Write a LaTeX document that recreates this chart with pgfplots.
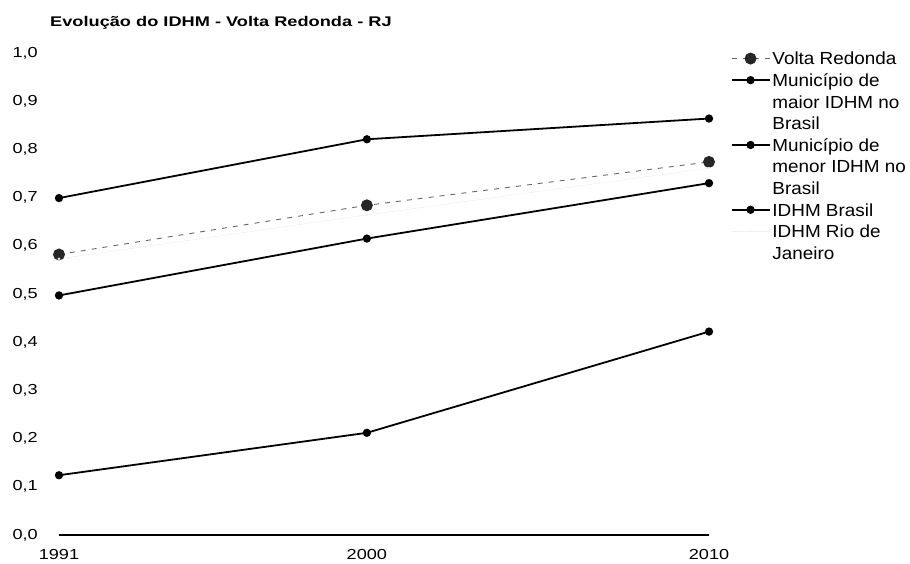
\documentclass[border=0pt]{standalone}
\usepackage{fontspec}
\setmainfont{Liberation Sans}
\newfontfamily\tickfont[FakeStretch=1.25]{Liberation Sans}
\newfontfamily\legfont[FakeStretch=1.08]{Liberation Sans}
\newfontfamily\titlefont[FakeStretch=1.3]{Liberation Sans}
\usepackage{pgfplots}
\pgfplotsset{compat=1.18}
\begin{document}
\begin{tikzpicture}[x=1pt,y=1pt]
\begin{axis}[
  at={(0,0)}, anchor=south west,
  scale only axis, width=650pt, height=482pt,
  xmin=1991, xmax=2010, ymin=0, ymax=1,
  axis x line=bottom, axis y line=left,
  x axis line style={-, line width=1.2pt, black},
  y axis line style={draw=none},
  major tick length=0pt,
  xtick={1991,2000,2010}, xticklabels={1991,2000,2010},
  ytick={0,0.1,...,1.0},
  /pgf/number format/assume math mode=true,
  yticklabel style={/pgf/number format/.cd,fixed,fixed zerofill,precision=1,use comma,/tikz/.cd,
    anchor=east, inner sep=0pt, xshift=-21pt, font=\tickfont\fontsize{14.5}{16}\selectfont},
  xticklabel style={anchor=north, inner sep=0pt, yshift=-14pt, font=\tickfont\fontsize{14.5}{16}\selectfont},
  clip=false,
  legend style={at={(axis description cs:1.033,1.007)}, anchor=north west, draw=none, fill=none,
    font=\legfont\fontsize{17.5}{20.5}\selectfont, inner sep=0pt,
    cells={anchor=base west, text height=13pt, text depth=4pt}, row sep=3.1pt,
    /tikz/every even column/.append style={column sep=5pt}},
  legend cell align=left,
  legend image code/.code={\draw[mark repeat=2,mark phase=2] plot coordinates {(0pt,0.5pt) (19pt,0.5pt) (38pt,0.5pt)};},
]
\addplot[dash pattern=on 5pt off 6pt, gray!80!black, line width=0.9pt,
  mark=*, mark size=5.5pt, mark options={solid, fill=black!85, draw=black!85}]
  coordinates {(1991,0.582) (2000,0.684) (2010,0.774)};
\addlegendentry{Volta Redonda}
\addplot[black, line width=1.8pt, mark=*, mark size=3.2pt]
  coordinates {(1991,0.699) (2000,0.821) (2010,0.864)};
\addlegendentry{Município de}
\addlegendimage{empty legend}\addlegendentry{maior IDHM no}
\addlegendimage{empty legend}\addlegendentry{Brasil}
\addplot[black, line width=1.8pt, mark=*, mark size=3.2pt]
  coordinates {(1991,0.124) (2000,0.212) (2010,0.422)};
\addlegendentry{Município de}
\addlegendimage{empty legend}\addlegendentry{menor IDHM no}
\addlegendimage{empty legend}\addlegendentry{Brasil}
\addplot[black, line width=1.8pt, mark=*, mark size=3.2pt]
  coordinates {(1991,0.497) (2000,0.615) (2010,0.730)};
\addlegendentry{IDHM Brasil}
\addplot[black!6, line width=0.6pt, mark=*, mark size=1pt]
  coordinates {(1991,0.573) (2000,0.664) (2010,0.761)};
\addlegendentry{IDHM Rio de}
\addlegendimage{empty legend}\addlegendentry{Janeiro}
\end{axis}
\node[anchor=west, inner sep=0pt, font=\titlefont\bfseries\fontsize{14}{15}\selectfont] at (-9pt,512pt) {Evolução do IDHM - Volta Redonda - RJ};
\pgfresetboundingbox
\path (-59pt,-29pt) rectangle (851pt,535pt);
\end{tikzpicture}
\end{document}
